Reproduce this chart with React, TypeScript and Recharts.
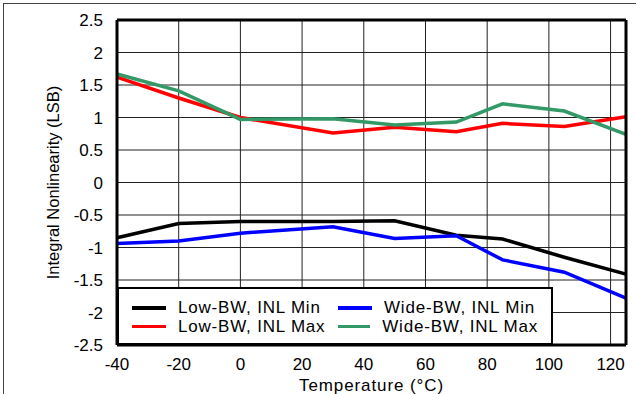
import {
  LineChart, Line, XAxis, YAxis, CartesianGrid,
} from 'recharts'

const temps = [-40, -20, 0, 30, 50, 70, 85, 105, 125]
const lowBwMin = [-0.85, -0.63, -0.6, -0.6, -0.59, -0.81, -0.87, -1.15, -1.41]
const lowBwMax = [1.62, 1.3, 1.0, 0.76, 0.85, 0.78, 0.91, 0.86, 1.01]
const wideBwMin = [-0.94, -0.9, -0.78, -0.68, -0.86, -0.82, -1.19, -1.38, -1.78]
const wideBwMax = [1.67, 1.41, 0.97, 0.98, 0.885, 0.93, 1.21, 1.1, 0.74]

const xTicks = [-40, -20, 0, 20, 40, 60, 80, 100, 120]
const yTicks = [-2.5, -2, -1.5, -1, -0.5, 0, 0.5, 1, 1.5, 2, 2.5]

const data = temps.map((t, i) => ({
  t,
  lowMin: lowBwMin[i],
  lowMax: lowBwMax[i],
  wideMin: wideBwMin[i],
  wideMax: wideBwMax[i],
}))

const series = [
  { key: 'lowMin', name: 'Low-BW, INL Min', color: '#000000' },
  { key: 'wideMin', name: 'Wide-BW, INL Min', color: '#0000ff' },
  { key: 'lowMax', name: 'Low-BW, INL Max', color: '#ff0000' },
  { key: 'wideMax', name: 'Wide-BW, INL Max', color: '#339966' },
]

const font = '"Liberation Sans", Arial, sans-serif'
const frame = { stroke: '#000', strokeWidth: 3 }
const tickStyle = { fontSize: 17, fill: '#000', fontFamily: font }

// legend sits inside the plot frame, bottom-left
function LegendBox() {
  return (
    <div
      style={{
        position: 'absolute',
        left: 117,
        top: 287,
        width: 436,
        height: 58,
        border: '2px solid #000',
        background: '#fff',
        boxSizing: 'border-box',
        display: 'grid',
        gridTemplateColumns: '206px 200px',
        gridTemplateRows: '19px 19px',
        padding: '9px 0 0 13px',
        fontFamily: font,
        fontSize: 17,
        letterSpacing: 0.8,
        color: '#000',
      }}
    >
      {series.map((s) => (
        <div key={s.key} style={{ display: 'flex', alignItems: 'center', whiteSpace: 'nowrap' }}>
          <span
            style={{
              display: 'inline-block',
              width: 34,
              height: s.key === 'lowMin' || s.key === 'wideMin' ? 4 : 3,
              background: s.color,
              marginRight: 12,
            }}
          />
          {s.name}
        </div>
      ))}
    </div>
  )
}

export default function App() {
  return (
    <div style={{ position: 'absolute', left: 0, top: 0, width: 636, height: 394, background: '#fff' }}>
      <div
        style={{
          position: 'absolute', left: 3, top: 3, right: 0, bottom: 0,
          borderLeft: '1px solid #444', borderTop: '1px solid #444',
        }}
      />
      <div style={{ position: 'absolute', left: 0, top: 0 }}>
        <LineChart
          width={636}
          height={394}
          data={data}
          margin={{ top: 19, right: 9, bottom: 0, left: 0 }}
        >
          <CartesianGrid stroke="#222" strokeWidth={1} />
          <XAxis
            dataKey="t"
            type="number"
            domain={[-40, 125]}
            ticks={xTicks}
            height={49}
            tickLine={false}
            axisLine={frame}
            tickMargin={7}
            tick={tickStyle}
            label={{
              value: 'Temperature (°C)', position: 'insideBottom', offset: 3,
              fontSize: 17, letterSpacing: 0.9, fill: '#000', fontFamily: font,
            }}
          />
          <XAxis
            xAxisId="top"
            orientation="top"
            dataKey="t"
            type="number"
            domain={[-40, 125]}
            height={1}
            tick={false}
            tickLine={false}
            axisLine={frame}
          />
          <YAxis
            type="number"
            domain={[-2.5, 2.5]}
            ticks={yTicks}
            width={117}
            tickLine={false}
            axisLine={frame}
            tickMargin={8}
            interval={0}
            tick={tickStyle}
            label={{
              value: 'Integral Nonlinearity (LSB)', angle: -90, position: 'center', dx: -5,
              fontSize: 16.5, fill: '#000', fontFamily: font,
            }}
          />
          <YAxis
            yAxisId="right"
            orientation="right"
            type="number"
            domain={[-2.5, 2.5]}
            width={1}
            tick={false}
            tickLine={false}
            axisLine={frame}
          />
          {series.map((s) => (
            <Line
              key={s.key}
              dataKey={s.key}
              name={s.name}
              stroke={s.color}
              strokeWidth={3.5}
              dot={false}
              type="linear"
              isAnimationActive={false}
            />
          ))}
        </LineChart>
      </div>
      <LegendBox />
    </div>
  )
}
